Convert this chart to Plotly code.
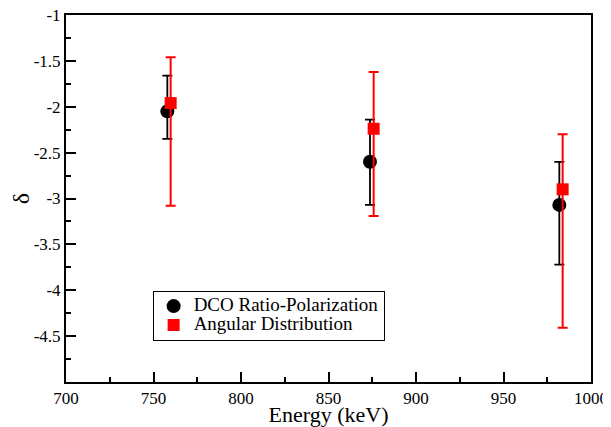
import plotly.graph_objects as go

# DCO Ratio-Polarization
dco_energy = [757.9, 873.7, 981.9]
dco_delta = [-2.05, -2.60, -3.07]
dco_upper = [-1.66, -2.14, -2.60]
dco_lower = [-2.35, -3.07, -3.72]

# Angular Distribution
ang_energy = [759.8, 875.8, 983.8]
ang_delta = [-1.96, -2.24, -2.90]
ang_upper = [-1.46, -1.62, -2.30]
ang_lower = [-3.08, -3.19, -4.41]

series_names = ["DCO Ratio-Polarization", "Angular Distribution"]

y_tickvals = [-1, -1.5, -2, -2.5, -3, -3.5, -4, -4.5]
y_ticktext = ["-1", "-1.5", "-2", "-2.5", "-3", "-3.5", "-4", "-4.5"]
x_tickvals = [700, 750, 800, 850, 900, 950, 1000]

font_family = "Liberation Serif, Times New Roman, serif"


def legend_label(text):
    return "<span style='font-size:19px'>" + text + "</span>"


fig = go.Figure()
fig.add_trace(go.Scatter(
    x=dco_energy, y=dco_delta, mode="markers", name=legend_label(series_names[0]),
    marker=dict(symbol="circle", size=14, color="black"),
    error_y=dict(type="data", symmetric=False,
                 array=[u - v for u, v in zip(dco_upper, dco_delta)],
                 arrayminus=[v - l for l, v in zip(dco_lower, dco_delta)],
                 color="black", thickness=1.8, width=5),
))
fig.add_trace(go.Scatter(
    x=ang_energy, y=ang_delta, mode="markers", name=legend_label(series_names[1]),
    marker=dict(symbol="square", size=12, color="#ff0000"),
    error_y=dict(type="data", symmetric=False,
                 array=[u - v for u, v in zip(ang_upper, ang_delta)],
                 arrayminus=[v - l for l, v in zip(ang_lower, ang_delta)],
                 color="#ff0000", thickness=2, width=5),
))

axis_common = dict(
    showline=True, linecolor="black", linewidth=2, mirror=True,
    ticks="inside", ticklen=10, tickwidth=1.5, tickcolor="black",
    showgrid=False, zeroline=False, automargin=False,
    ticklabeloverflow="allow",
    tickfont=dict(family=font_family, size=17, color="black"),
)

fig.update_xaxes(
    range=[700, 1000], tickvals=x_tickvals,
    minor=dict(ticks="inside", ticklen=5, tickwidth=1.5, tickcolor="black", dtick=25, tick0=700),
    title=dict(text="Energy (keV)", font=dict(family=font_family, size=22, color="black"), standoff=0),
    **axis_common,
)
fig.update_yaxes(
    range=[-5, -1], tickvals=y_tickvals, ticktext=y_ticktext,
    minor=dict(ticks="inside", ticklen=5, tickwidth=1.5, tickcolor="black", dtick=0.25, tick0=-1),
    title=dict(text="δ", font=dict(family=font_family, size=24, color="black"), standoff=10),
    **axis_common,
)

# page body has an 8px default margin, so the figure is shrunk and shifted accordingly
fig.update_layout(
    width=603, height=419,
    margin=dict(l=58, r=20, t=7, b=45),
    paper_bgcolor="white", plot_bgcolor="white",
    showlegend=True,
    legend=dict(
        x=0.165, y=0.249, xanchor="left", yanchor="top",
        bgcolor="white", bordercolor="black", borderwidth=1,
        font=dict(family=font_family, size=12, color="black"),
        itemsizing="trace", tracegroupgap=0,
    ),
)

fig.write_html("out.html")
